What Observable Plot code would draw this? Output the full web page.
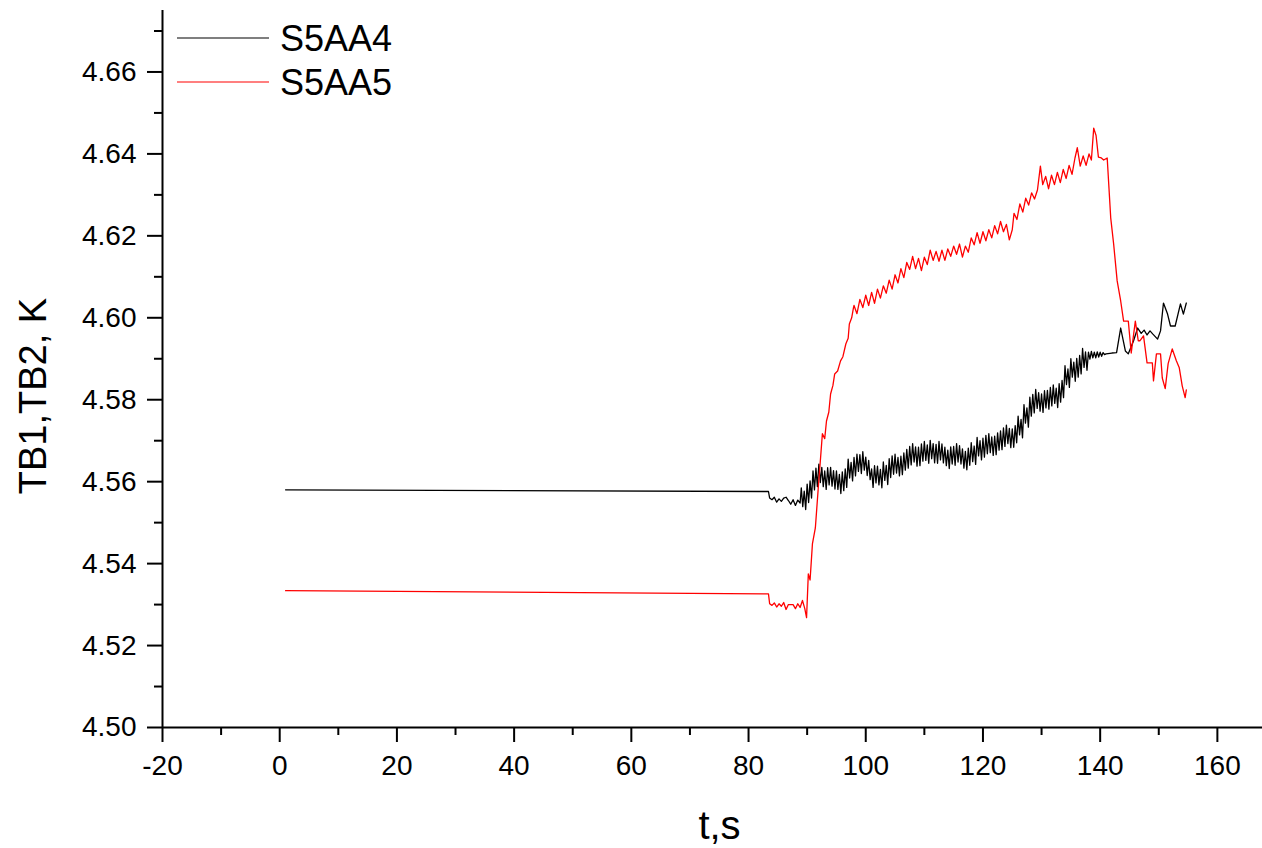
<!DOCTYPE html>
<html><head><meta charset="utf-8">
<script src="https://cdn.jsdelivr.net/npm/d3@7"></script>
<script src="https://cdn.jsdelivr.net/npm/@observablehq/plot@0.6"></script>
<style>
body{margin:0;background:#fff;}
#chart{width:1262px;height:848px;}
</style>
</head><body><div id="chart"></div>
<script>
const seriesNames = ["S5AA4", "S5AA5"];
const seriesColors = ["#000000", "#ff0000"];

// S5AA4 (black): [t (s), TB (K)]
const s5aa4 = [
[1.0,4.5580],[83.4,4.5576],[83.6,4.5560],[84.0,4.5556],[84.4,4.5562],[84.8,4.5550],[85.2,4.5558],[85.6,4.5552],[86.0,4.5560],[86.4,4.5562],[86.8,4.5554],[87.2,4.5545],[87.6,4.5556],[88.0,4.5542],[88.4,4.5555],[88.8,4.5548],
[89.00,4.5585],[89.25,4.5539],[89.50,4.5577],[89.75,4.5532],
[90.00,4.5594],[90.25,4.5549],[90.50,4.5602],[90.75,4.5560],
[91.00,4.5626],[91.25,4.5580],[91.50,4.5633],[91.75,4.5588],
[92.00,4.5643],[92.25,4.5598],[92.50,4.5635],[92.75,4.5588],
[93.00,4.5626],[93.25,4.5581],[93.50,4.5634],[93.75,4.5592],
[94.00,4.5635],[94.25,4.5589],[94.50,4.5627],[94.75,4.5582],
[95.00,4.5626],[95.25,4.5581],[95.50,4.5618],[95.75,4.5571],
[96.00,4.5624],[96.25,4.5578],[96.50,4.5631],[96.75,4.5586],
[97.00,4.5655],[97.25,4.5609],[97.50,4.5647],[97.75,4.5602],
[98.00,4.5659],[98.25,4.5614],[98.50,4.5667],[98.75,4.5625],
[99.00,4.5666],[99.25,4.5620],[99.50,4.5673],[99.75,4.5628],
[100.00,4.5660],[100.25,4.5615],[100.50,4.5652],[100.75,4.5605],
[101.00,4.5631],[101.25,4.5586],[101.50,4.5639],[101.75,4.5597],
[102.00,4.5638],[102.25,4.5592],[102.50,4.5630],[102.75,4.5585],
[103.00,4.5648],[103.25,4.5603],[103.50,4.5640],[103.75,4.5593],
[104.00,4.5656],[104.25,4.5610],[104.50,4.5663],[104.75,4.5618],
[105.00,4.5667],[105.25,4.5621],[105.50,4.5659],[105.75,4.5614],
[106.00,4.5662],[106.25,4.5617],[106.50,4.5670],[106.75,4.5628],
[107.00,4.5679],[107.25,4.5633],[107.50,4.5686],[107.75,4.5641],
[108.00,4.5693],[108.25,4.5648],[108.50,4.5685],[108.75,4.5638],
[109.00,4.5684],[109.25,4.5639],[109.50,4.5692],[109.75,4.5650],
[110.00,4.5698],[110.25,4.5652],[110.50,4.5690],[110.75,4.5645],
[111.00,4.5701],[111.25,4.5656],[111.50,4.5693],[111.75,4.5646],
[112.00,4.5691],[112.25,4.5645],[112.50,4.5698],[112.75,4.5653],
[113.00,4.5692],[113.25,4.5646],[113.50,4.5684],[113.75,4.5639],
[114.00,4.5677],[114.25,4.5632],[114.50,4.5685],[114.75,4.5643],
[115.00,4.5686],[115.25,4.5640],[115.50,4.5693],[115.75,4.5648],
[116.00,4.5688],[116.25,4.5643],[116.50,4.5680],[116.75,4.5633],
[117.00,4.5674],[117.25,4.5629],[117.50,4.5682],[117.75,4.5640],
[118.00,4.5695],[118.25,4.5649],[118.50,4.5687],[118.75,4.5642],
[119.00,4.5708],[119.25,4.5663],[119.50,4.5700],[119.75,4.5653],
[120.00,4.5706],[120.25,4.5660],[120.50,4.5713],[120.75,4.5668],
[121.00,4.5717],[121.25,4.5671],[121.50,4.5709],[121.75,4.5664],
[122.00,4.5711],[122.25,4.5666],[122.50,4.5719],[122.75,4.5677],
[123.00,4.5724],[123.25,4.5678],[123.50,4.5731],[123.75,4.5686],
[124.00,4.5738],[124.25,4.5693],[124.50,4.5730],[124.75,4.5683],
[125.00,4.5729],[125.25,4.5684],[125.50,4.5737],[125.75,4.5695],
[126.00,4.5760],[126.25,4.5714],[126.50,4.5752],[126.75,4.5707],
[127.00,4.5788],[127.25,4.5743],[127.50,4.5780],[127.75,4.5733],
[128.00,4.5806],[128.25,4.5760],[128.50,4.5813],[128.75,4.5768],
[129.00,4.5825],[129.25,4.5779],[129.50,4.5817],[129.75,4.5772],
[130.00,4.5814],[130.25,4.5769],[130.50,4.5822],[130.75,4.5780],
[131.00,4.5823],[131.25,4.5777],[131.50,4.5830],[131.75,4.5785],
[132.00,4.5836],[132.25,4.5791],[132.50,4.5828],[132.75,4.5781],
[133.00,4.5839],[133.25,4.5794],[133.50,4.5847],[133.75,4.5805],
[134.00,4.5883],[134.25,4.5837],[134.50,4.5875],[134.75,4.5830],
[135.00,4.5900],[135.25,4.5855],[135.50,4.5892],[135.75,4.5845],
[136.00,4.5901],[136.25,4.5855],[136.50,4.5908],[136.75,4.5863],
[137.00,4.5925],[137.25,4.5879],[137.50,4.5917],[137.75,4.5872],
[138.00,4.5916],[138.25,4.5899],[138.50,4.5918],[138.75,4.5902],
[139.00,4.5916],[139.25,4.5902],[139.50,4.5917],[139.75,4.5904],
[140.00,4.5916],[140.25,4.5906],[140.50,4.5915],[140.75,4.5910],
[141.0,4.5912],[142.0,4.5914],[142.8,4.5915],
[143.5,4.5975],[144.3,4.5919],[144.8,4.5912],[145.7,4.5944],[146.4,4.5975],[147.0,4.5962],[147.5,4.5970],[148.0,4.5958],[148.5,4.5968],[149.0,4.5960],[149.8,4.5948],[150.3,4.5968],[150.8,4.6036],[151.5,4.6009],[152.0,4.5980],[152.8,4.5980],[153.7,4.6034],[154.2,4.6009],[154.7,4.6036]
];

// S5AA5 (red): [t (s), TB (K)]
const s5aa5 = [
[1.0,4.5334],[83.4,4.5326],[83.6,4.5302],[84.0,4.5298],[84.4,4.5304],[84.8,4.5294],[85.2,4.5302],[85.6,4.5296],[86.0,4.5305],[86.4,4.5288],[86.8,4.5300],[87.2,4.5300],[87.6,4.5300],[88.0,4.5290],[88.4,4.5302],[88.8,4.5293],[89.2,4.5310],[89.6,4.5290],[89.9,4.5268],
[90.2,4.5375],[90.5,4.5360],[90.9,4.5448],[91.4,4.5487],[91.9,4.5585],[92.3,4.5660],[92.6,4.5717],[93.0,4.5705],[93.3,4.5748],[93.7,4.5770],[94.0,4.5814],[94.4,4.5835],[94.7,4.5863],[95.2,4.5870],[95.7,4.5895],[96.1,4.5905],[96.6,4.5936],[97.0,4.5950],[97.2,4.5985],[97.6,4.6000],[97.9,4.6024],
[98.0,4.6030],[98.5,4.6010],[99.0,4.6045],[99.5,4.6025],[100.0,4.6055],[100.5,4.6030],[101.0,4.6062],[101.5,4.6035],[102.0,4.6070],[102.5,4.6048],[103.0,4.6078],[103.5,4.6060],[104.0,4.6092],[104.5,4.6070],[105.0,4.6105],[105.5,4.6085],[106.0,4.6120],[106.5,4.6098],[107.0,4.6135],[107.5,4.6118],[108.0,4.6150],[108.5,4.6120],[109.0,4.6145],[109.5,4.6115],[110.0,4.6148],[110.5,4.6130],[111.0,4.6165],[111.5,4.6140],[112.0,4.6162],[112.5,4.6138],[113.0,4.6165],[113.5,4.6140],[114.0,4.6168],[114.5,4.6150],[115.0,4.6175],[115.5,4.6155],[116.0,4.6180],[116.5,4.6148],[117.0,4.6175],[117.5,4.6160],[118.0,4.6195],[118.5,4.6178],[119.0,4.6208],[119.5,4.6182],[120.0,4.6210],[120.5,4.6188],[121.0,4.6215],[121.5,4.6195],[122.0,4.6225],[122.5,4.6205],[123.0,4.6235],[123.5,4.6210],[124.0,4.6228],[124.5,4.6190],[125.0,4.6215],[125.3,4.6255],[125.8,4.6240],[126.3,4.6278],[126.8,4.6258],[127.3,4.6292],[127.8,4.6275],[128.3,4.6305],[128.8,4.6290],[129.3,4.6312],[129.8,4.6370],[130.2,4.6325],[130.7,4.6345],[131.2,4.6315],[131.7,4.6348],[132.2,4.6325],[132.7,4.6355],[133.2,4.6330],[133.7,4.6362],[134.2,4.6340],[134.7,4.6372],[135.2,4.6350],[135.7,4.6390],[136.1,4.6415],[136.6,4.6370],[137.1,4.6395],[137.6,4.6372],[138.1,4.6400],[138.5,4.6385],[138.9,4.6463],[139.3,4.6445],[139.7,4.6392],[140.2,4.6390],[140.6,4.6385],[141.2,4.6390],
[141.8,4.6244],[142.3,4.6180],[142.9,4.6090],[143.5,4.6041],[144.0,4.5992],[144.8,4.5992],[145.3,4.5914],[146.0,4.5992],[146.5,4.5944],[146.8,4.5944],[147.4,4.5956],[148.0,4.5890],[148.9,4.5890],[149.1,4.5846],[149.6,4.5912],[150.3,4.5912],[150.6,4.5853],[151.1,4.5827],[151.6,4.5888],[152.3,4.5924],[153.0,4.5895],[153.5,4.5878],[154.0,4.5834],[154.5,4.5805],[154.7,4.5824]
];

const xMajor = [-20, 0, 20, 40, 60, 80, 100, 120, 140, 160];
const xMinor = [-10, 10, 30, 50, 70, 90, 110, 130, 150];
const yMajor = [4.50, 4.52, 4.54, 4.56, 4.58, 4.60, 4.62, 4.64, 4.66];
const yMinor = [4.51, 4.53, 4.55, 4.57, 4.59, 4.61, 4.63, 4.65, 4.67];
const xLabel = "t,s";
const yLabel = "TB1,TB2, K";

const FONT = "'Liberation Sans', Arial, sans-serif";

const plot = Plot.plot({
  width: 1262,
  height: 848,
  marginLeft: 162,
  marginRight: 0,
  marginTop: 10,
  marginBottom: 121,
  style: {fontFamily: FONT, background: "#fff", color: "#000", overflow: "visible"},
  x: {domain: [-20, 167.7]},
  y: {domain: [4.50, 4.675]},
  marks: [
    Plot.line(s5aa4, {x: d => d[0], y: d => d[1], stroke: seriesColors[0], strokeWidth: 1.3}),
    Plot.line(s5aa5, {x: d => d[0], y: d => d[1], stroke: seriesColors[1], strokeWidth: 1.3}),
    Plot.ruleY([4.50], {stroke: "#000", strokeWidth: 2}),
    Plot.ruleX([-20], {stroke: "#000", strokeWidth: 2}),
    Plot.axisX({ticks: xMajor, tickSize: 15, tickPadding: 13, fontSize: 28, strokeWidth: 2, tickFormat: d => String(d), label: null}),
    Plot.axisX({ticks: xMinor, tickSize: 8, strokeWidth: 2, tickFormat: () => "", label: null}),
    Plot.axisY({ticks: yMajor, tickSize: 15, tickPadding: 11, fontSize: 28, strokeWidth: 2, tickFormat: d => d.toFixed(2), label: null}),
    Plot.axisY({ticks: yMinor, tickSize: 8, strokeWidth: 2, tickFormat: () => "", label: null}),
    Plot.text([xLabel], {frameAnchor: "bottom", lineAnchor: "bottom", dy: 111, dx: 7, fontSize: 40, fill: "#000"}),
    Plot.text([yLabel], {frameAnchor: "left", rotate: -90, lineAnchor: "middle", textAnchor: "middle", dx: -129, dy: 27, fontSize: 38, fill: "#000"})
  ]
});

// legend
const svg = d3.select(plot);
const lg = svg.append("g").attr("font-family", FONT).attr("text-anchor", "start");
seriesNames.forEach((name, i) => {
  const y = 38 + i * 44;
  lg.append("line").attr("x1", 177).attr("x2", 269).attr("y1", y).attr("y2", y)
    .attr("stroke", seriesColors[i]).attr("stroke-width", 1.2);
  lg.append("text").attr("x", 280).attr("y", y + 13).attr("font-size", 36)
    .attr("text-anchor", "start").attr("fill", "#000").text(name);
});

document.getElementById("chart").appendChild(plot);
</script>
</body></html>
